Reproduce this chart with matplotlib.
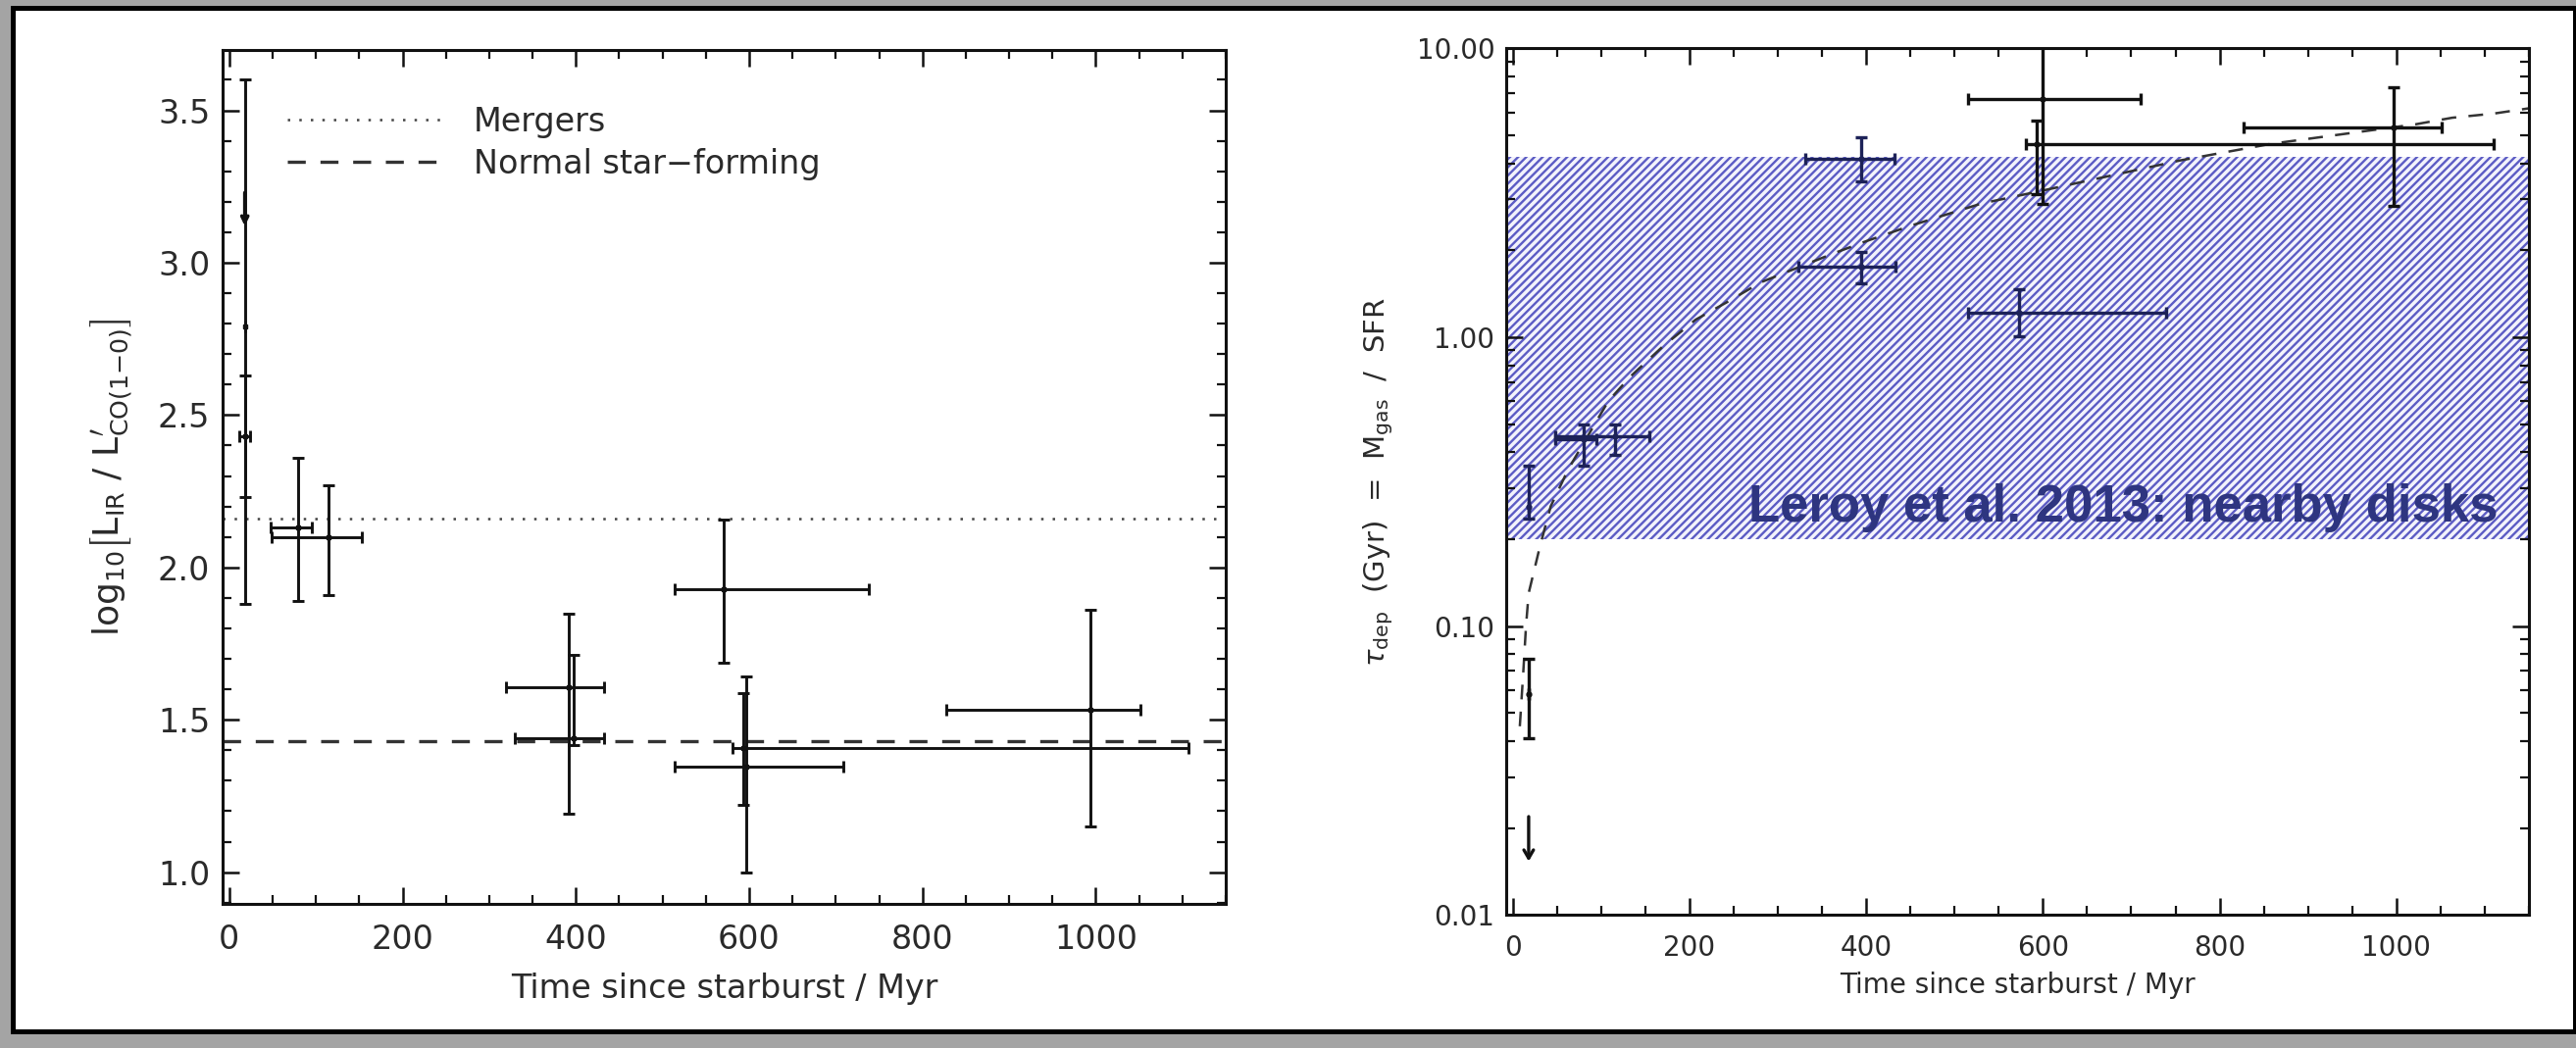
import numpy as np
import matplotlib
matplotlib.use("Agg")
import matplotlib.pyplot as plt
from matplotlib.patches import Rectangle
from matplotlib.ticker import MultipleLocator, LogLocator, FormatStrFormatter, NullFormatter

plt.rcParams["hatch.linewidth"] = 1.7

# ---------------- data ----------------
# Left panel: log10(L_IR / L'CO(1-0)) versus time since starburst (Myr)
t_ratio = [18, 18, 79, 115, 392, 397, 571, 597, 593, 994]
ratio = [2.79, 2.43, 2.13, 2.10, 1.607, 1.439, 1.928, 1.347, 1.406, 1.533]
t_ratio_lo = [18, 12, 48, 49, 319, 330, 514, 514, 581, 828]
t_ratio_hi = [18, 24, 95, 153, 432, 432, 738, 709, 1107, 1051]
ratio_lo = [1.88, 2.23, 1.89, 1.91, 1.191, 1.417, 1.687, 1.00, 1.22, 1.149]
ratio_hi = [3.60, 2.63, 2.36, 2.27, 1.849, 1.713, 2.156, 1.643, 1.586, 1.862]
ratio_limit_t = 18
ratio_limit = 3.23
mergers_level = 2.16
normal_sf_level = 1.43

# Right panel: depletion time (Gyr) versus time since starburst (Myr)
t_dep = [18, 18, 80, 116, 394, 394, 573, 600, 593, 997]
tau = [0.258, 0.058, 0.445, 0.455, 4.16, 1.76, 1.22, 6.68, 4.67, 5.34]
t_dep_lo = [18, 18, 48, 48, 331, 323, 515, 515, 581, 827]
t_dep_hi = [18, 18, 95, 155, 432, 433, 739, 711, 1110, 1051]
tau_lo = [0.236, 0.041, 0.36, 0.392, 3.46, 1.54, 1.01, 2.90, 3.14, 2.85]
tau_hi = [0.358, 0.077, 0.497, 0.50, 4.93, 1.97, 1.464, 14.0, 5.63, 7.36]
tau_limit_t = 18
tau_limit = 0.0219

# model track
track_t = [8, 12, 15, 18, 31, 43, 63, 108, 133, 170, 207, 242, 281, 361, 400,
           450, 530, 600, 755, 858, 1022, 1063, 1111, 1150]
track_tau = [0.045, 0.07, 0.10, 0.13, 0.19, 0.26, 0.35, 0.60, 0.73, 0.93, 1.15,
             1.32, 1.55, 1.94, 2.15, 2.43, 2.90, 3.22, 4.09, 4.67, 5.46, 5.75,
             5.95, 6.2]

# Leroy et al. (2013) range for nearby disks
leroy_lo, leroy_hi = 0.2, 4.2

# ---------------- figure ----------------
W, H = 2627, 1069
fig = plt.figure(figsize=(W / 100, H / 100), dpi=100)
fig.patch.set_facecolor("#a4a4a4")

def fx(px):
    return px / W

def fy(py):
    return 1 - py / H

frame = Rectangle((fx(13.5), fy(1052)), fx(2625.5) - fx(13.5), fy(7.5) - fy(1052),
                  transform=fig.transFigure, facecolor="white", edgecolor="black",
                  linewidth=3.6, zorder=-5)
fig.patches.append(frame)

ax1 = fig.add_axes([fx(226.7), fy(921.6), fx(1250) - fx(226.7), fy(51) - fy(921.6)])
ax2 = fig.add_axes([fx(1535.5), fy(933.3), fx(2579) - fx(1535.5), fy(49.3) - fy(933.3)])

tick_color = "#2a2a2a"
for ax in (ax1, ax2):
    ax.set_facecolor("white")
    for s in ax.spines.values():
        s.set_linewidth(2.2)
        s.set_color("#111111")
    ax.tick_params(which="both", direction="in", top=True, right=True,
                   colors="#111111", labelcolor=tick_color)
    ax.tick_params(which="major", length=12, width=1.8)
    ax.tick_params(which="minor", length=6.5, width=1.6)
    ax.xaxis.set_major_locator(MultipleLocator(200))
    ax.xaxis.set_minor_locator(MultipleLocator(50))
    ax.set_xlim(-8, 1150)

# ---------- left panel ----------
x = np.array(t_ratio, float)
y = np.array(ratio, float)
xerr = [x - np.array(t_ratio_lo), np.array(t_ratio_hi) - x]
yerr = [y - np.array(ratio_lo), np.array(ratio_hi) - y]

ax1.axhline(mergers_level, color="#444444", lw=1.8, linestyle=(0, (1, 3.7)),
            label="Mergers", zorder=1)
ax1.axhline(normal_sf_level, color="#333333", lw=2.4, linestyle=(0, (5.5, 4.5)),
            label="Normal star\u2212forming", zorder=1)
ax1.errorbar(x, y, xerr=xerr, yerr=yerr, fmt="s", ms=3, color="#111111",
             ecolor="#111111", elinewidth=2.1, capsize=4.5, capthick=2.1, zorder=3)
ax1.annotate("", xy=(ratio_limit_t, ratio_limit - 0.11),
             xytext=(ratio_limit_t, ratio_limit),
             arrowprops=dict(arrowstyle="->,head_length=0.45,head_width=0.22",
                             color="#111111", lw=2.6, shrinkA=0, shrinkB=0),
             zorder=4)

ax1.set_ylim(0.897, 3.698)
ax1.yaxis.set_major_locator(MultipleLocator(0.5))
ax1.yaxis.set_minor_locator(MultipleLocator(0.1))
ax1.yaxis.set_major_formatter(FormatStrFormatter("%.1f"))
ax1.tick_params(axis="both", which="major", labelsize=24)
ax1.tick_params(axis="x", pad=15)
ax1.tick_params(axis="y", pad=9)

ax1.set_xlabel("Time since starburst / Myr", fontsize=24, color=tick_color, va="center")
ax1.xaxis.set_label_coords(0.5, -0.100)
ax1.set_ylabel(r"$\mathrm{log}_{10}\left[\mathrm{L}_{\rm IR}\ /\ "
               r"\mathrm{L}^{\prime}_{\rm CO(1{-}0)}\right]$",
               fontsize=26, color=tick_color, va="center")
ax1.yaxis.set_label_coords(-0.1105, 0.5)

ax1.legend(loc="upper left", bbox_to_anchor=(0.0648, 0.935), frameon=False,
           fontsize=24, handlelength=4.9, handletextpad=0.8, labelspacing=0.3,
           borderpad=0, borderaxespad=0, labelcolor=tick_color)

# ---------- right panel ----------
ax2.set_yscale("log")
ax2.set_ylim(0.01, 10)

band = ax2.axhspan(leroy_lo, leroy_hi, facecolor="#f3f3fc", edgecolor="#5c5cc4",
                   hatch="////", linewidth=0, zorder=1)

ax2.plot(track_t, track_tau, color="#333333", lw=1.8, linestyle=(0, (6.0, 5.0)),
         zorder=2)

xr = np.array(t_dep, float)
yr = np.array(tau, float)
xerr_r = np.array([xr - np.array(t_dep_lo), np.array(t_dep_hi) - xr])
yerr_r = np.array([yr - np.array(tau_lo), np.array(tau_hi) - yr])
in_band = (yr > leroy_lo) & (yr < leroy_hi)
for mask, col in ((in_band, "#1d2258"), (~in_band, "#111111")):
    ax2.errorbar(xr[mask], yr[mask], xerr=xerr_r[:, mask], yerr=yerr_r[:, mask],
                 fmt="o", ms=3.5, color=col, ecolor=col, elinewidth=2.4,
                 capsize=4.5, capthick=2.4, zorder=3)
ax2.annotate("", xy=(tau_limit_t, tau_limit * 0.70), xytext=(tau_limit_t, tau_limit),
             arrowprops=dict(arrowstyle="->,head_length=0.6,head_width=0.35",
                             color="#111111", lw=2.4, shrinkA=0, shrinkB=0),
             zorder=4)

ax2.text(0.970, 0.454, "Leroy et al. 2013: nearby disks", transform=ax2.transAxes,
         ha="right", va="baseline", fontsize=38, fontweight="bold",
         family="Liberation Sans", color="#2e3580", zorder=5)

ax2.yaxis.set_major_locator(LogLocator(base=10, numticks=10))
ax2.yaxis.set_minor_locator(LogLocator(base=10, subs=np.arange(2, 10), numticks=20))
ax2.yaxis.set_major_formatter(FormatStrFormatter("%.2f"))
ax2.yaxis.set_minor_formatter(NullFormatter())
ax2.tick_params(axis="both", which="major", labelsize=20)
ax2.tick_params(axis="x", pad=14)
ax2.tick_params(axis="y", pad=8)

ax2.set_xlabel("Time since starburst / Myr", fontsize=20, color=tick_color, va="center")
ax2.xaxis.set_label_coords(0.5, -0.081)
ax2.set_ylabel(r"$\tau_{\rm dep}$  (Gyr)  =  M$_{\rm gas}$  /  SFR", fontsize=21,
               color=tick_color, va="center")
ax2.yaxis.set_label_coords(-0.124, 0.5)

fig.savefig("out.png", dpi=100, facecolor=fig.get_facecolor())
